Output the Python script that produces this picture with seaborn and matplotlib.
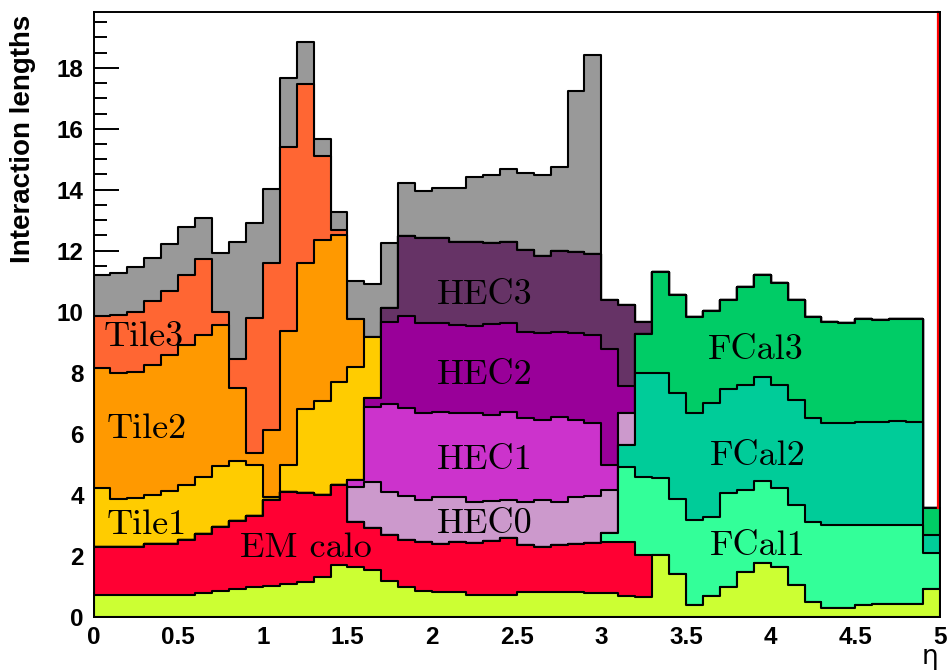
import numpy as np
import matplotlib
matplotlib.use("Agg")
import matplotlib.pyplot as plt
import matplotlib.transforms as mtransforms
from matplotlib.ticker import MultipleLocator, FixedLocator, FixedFormatter
import seaborn as sns

# eta binning (50 bins of 0.1)
eta_edges = [round(0.1 * i, 1) for i in range(51)]

# Upper edge of each sub-detector in cumulative interaction lengths, per eta bin.
# None marks bins where the sub-detector is not present.
before_calo = [0.71, 0.71, 0.71, 0.71, 0.71, 0.71, 0.76, 0.85, 0.90, 0.96,
               1.00, 1.06, 1.14, 1.31, 1.68, 1.62, 1.52, 1.18, 0.97, 0.85,
               0.81, 0.81, 0.71, 0.71, 0.71, 0.81, 0.81, 0.81, 0.81, 0.78,
               0.76, 0.68, 0.64, 2.02, 1.40, 0.38, 0.67, 0.97, 1.47, 1.77,
               1.63, 1.03, 0.49, 0.29, 0.29, 0.38, 0.42, 0.42, 0.42, 0.89]
em_calo = [2.29, 2.29, 2.29, 2.38, 2.38, 2.52, 2.70, 2.92, 3.14, 3.30,
           3.82, 4.10, 4.04, 3.99, 4.33, 3.11, 2.91, 2.68, 2.51, 2.45,
           2.38, 2.45, 2.42, 2.48, 2.57, 2.35, 2.29, 2.33, 2.38, 2.40,
           2.43, 2.45, 2.03] + [None] * 17
fcal1 = [None] * 30 + [2.73, 4.91, 4.59, 4.55, 3.85, 3.17, 3.27, 4.04, 4.15, 4.46,
                       4.21, 3.66, 3.11, 3.00, 3.00, 3.00, 3.00, 3.00, 3.00, 2.07]
fcal2 = [None] * 31 + [5.63, 7.98, 7.99, 7.32, 6.67, 6.99, 7.45, 7.60, 7.87,
                       7.60, 7.10, 6.50, 6.36, 6.36, 6.39, 6.39, 6.42, 6.39, 2.67]
fcal3 = [None] * 32 + [9.26, 11.31, 10.53, 9.82, 10.02, 10.38, 10.82, 11.20,
                       10.93, 10.38, 9.82, 9.67, 9.64, 9.75, 9.71, 9.75, 9.75, 3.55]
hec0 = [None] * 15 + [4.26, 4.42, 4.10, 3.96, 3.82,
                      3.93, 3.93, 3.77, 3.80, 3.82, 3.74, 3.82, 3.77, 3.93, 3.95,
                      4.15, 6.67] + [None] * 18
hec1 = [None] * 15 + [4.48, 6.88, 6.97, 6.84, 6.67,
                      6.72, 6.67, 6.67, 6.61, 6.72, 6.50, 6.45, 6.56, 6.45, 6.34,
                      4.97] + [None] * 19
hec2 = [None] * 16 + [7.16, 9.65, 9.85, 9.64,
                      9.64, 9.56, 9.53, 9.61, 9.62, 9.34, 9.29, 9.34, 9.29, 9.23,
                      8.77, 7.56] + [None] * 18
hec3 = [None] * 17 + [10.11, 12.48, 12.41,
                      12.41, 12.30, 12.30, 12.24, 12.30, 12.02, 11.84, 12.00, 11.97, 11.89,
                      10.39, 10.21, 9.66] + [None] * 17
tile1 = [4.21, 3.86, 3.88, 3.98, 4.12, 4.33, 4.56, 4.95, 5.10, 4.97,
         3.93, 4.97, 6.80, 7.08, 7.70, 8.20, 9.18] + [None] * 33
tile2 = [8.16, 7.98, 8.03, 8.25, 8.58, 8.91, 9.24, 9.56, 7.49, 5.35,
         6.12, 9.35, 11.59, 12.35, 12.52, 9.77] + [None] * 34
tile3 = [9.86, 9.89, 10.00, 10.36, 10.69, 11.20, 11.72, 10.00, 8.44, 9.78,
         11.59, 15.41, 17.47, 15.09, 12.68] + [None] * 35
muon_front = [11.20, 11.28, 11.46, 11.77, 12.21, 12.79, 13.08, 11.92, 12.30, 12.90,
              14.02, 17.68, 18.86, 15.67, 13.27, 11.00, 10.90, 12.24, 14.21, 13.97,
              14.04, 14.04, 14.43, 14.49, 14.67, 14.54, 14.49, 14.76, 17.24, 18.42] + [None] * 20

# stacking order, bottom to top, with fill colours
stack = [
    (before_calo, "#ccff33"),
    (em_calo, "#ff0033"),
    (fcal1, "#33ff99"),
    (fcal2, "#00cc99"),
    (fcal3, "#00cc66"),
    (hec0, "#cc99cc"),
    (hec1, "#cc33cc"),
    (hec2, "#990099"),
    (hec3, "#663366"),
    (tile1, "#ffcc00"),
    (tile2, "#ff9900"),
    (tile3, "#ff6633"),
    (muon_front, "#999999"),
]

# in-plot labels: text, left x, baseline y
region_labels = [
    ("Tile3", 0.058, 8.87), ("Tile2", 0.078, 5.85), ("Tile1", 0.078, 2.69),
    ("EM calo", 0.865, 1.94),
    ("HEC3", 2.03, 10.25), ("HEC2", 2.03, 7.62), ("HEC1", 2.03, 4.84), ("HEC0", 2.03, 2.73),
    ("FCal3", 3.63, 8.44), ("FCal2", 3.64, 4.97), ("FCal1", 3.64, 2.02),
]

x_ticks = [0, 0.5, 1, 1.5, 2, 2.5, 3, 3.5, 4, 4.5, 5]
x_ticklabels = ["0", "0.5", "1", "1.5", "2", "2.5", "3", "3.5", "4", "4.5", "5"]
y_ticks = [0, 2, 4, 6, 8, 10, 12, 14, 16, 18]
y_ticklabels = ["0", "2", "4", "6", "8", "10", "12", "14", "16", "18"]
y_max = 19.82

# cumulative upper edges
edges = np.array(eta_edges)
centers = 0.5 * (edges[:-1] + edges[1:])
prev = np.zeros(len(centers))
tops = []
for values, color in stack:
    arr = np.array([np.nan if v is None else v for v in values], dtype=float)
    top = np.where(np.isnan(arr), prev, arr)
    tops.append((top, color))
    prev = top

W, H = 950, 672
fig = plt.figure(figsize=(W / 100, H / 100), dpi=100)
ax = fig.add_axes([93.5 / W, 1 - 616.5 / H, (940 - 93.5) / W, (616.5 - 12.3) / H])

# draw the cumulative histograms from the outermost layer inwards
for top, color in reversed(tops):
    sns.histplot(x=centers, weights=top, bins=eta_edges, element="step", fill=True,
                 color=color, alpha=1, edgecolor="black", linewidth=1.5, ax=ax)

ax.set_xlim(edges[0], edges[-1])
ax.set_ylim(0, y_max)
ax.set_xlabel("")
ax.set_ylabel("")
ax.set_axisbelow(True)

# thin red line at the upper eta edge, above the last bin
shift = mtransforms.ScaledTranslation(-1.6 / 100, 0, fig.dpi_scale_trans)
ax.plot([edges[-1], edges[-1]], [tops[-1][0][-1], y_max], color="#ff0000",
        lw=1.6, transform=ax.transData + shift, clip_on=False, zorder=2)

for sp in ax.spines.values():
    sp.set_color("black")
    sp.set_linewidth(1.4)

tick_font = dict(family="Liberation Sans", weight="bold", size=17.5)
ax.xaxis.set_major_locator(FixedLocator(x_ticks))
ax.xaxis.set_major_formatter(FixedFormatter(x_ticklabels))
ax.xaxis.set_minor_locator(MultipleLocator(0.1))
ax.yaxis.set_major_locator(FixedLocator(y_ticks))
ax.yaxis.set_major_formatter(FixedFormatter(y_ticklabels))
ax.yaxis.set_minor_locator(MultipleLocator(0.5))
ax.tick_params(which="major", direction="in", length=18, width=1.4, pad=7)
ax.tick_params(which="minor", direction="in", length=9.4, width=1.4)
for lab in ax.get_xticklabels() + ax.get_yticklabels():
    lab.set_fontproperties(matplotlib.font_manager.FontProperties(**tick_font))

for text, x, y in region_labels:
    ax.text(x, y, text, family="cmr10", fontsize=26, ha="left", va="baseline", zorder=5)

fig.text(23 / W, 1 - 15 / H, "Interaction lengths", rotation=90, ha="center", va="top",
         family="Liberation Sans", weight="bold", fontsize=20)
fig.text(938 / W, 1 - 664 / H, "η", ha="right", va="baseline",
         family="DejaVu Sans", fontsize=19)

fig.savefig("out.png", dpi=100)
